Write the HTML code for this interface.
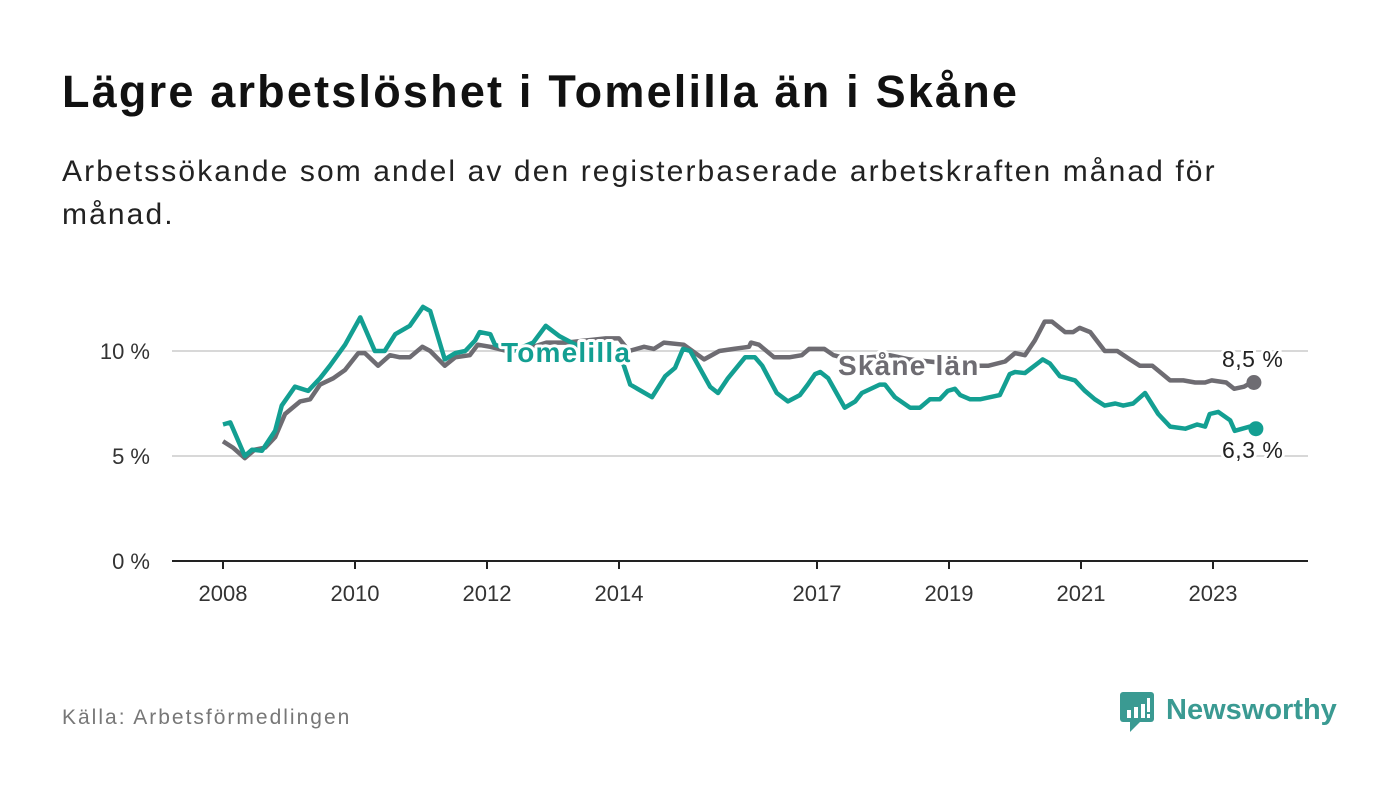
<!DOCTYPE html>
<html><head><meta charset="utf-8"><style>
body{margin:0;width:1400px;height:794px;background:#fff;font-family:"Liberation Sans",sans-serif;overflow:hidden;position:relative}
#title{position:absolute;left:62px;top:66px;font-size:45px;letter-spacing:2.2px;font-weight:bold;color:#111;margin:0}
#sub{position:absolute;left:62px;top:150px;width:1200px;font-size:30px;letter-spacing:2.1px;line-height:43px;color:#222;margin:0}
#src{position:absolute;left:62px;top:706px;font-size:21px;letter-spacing:2px;color:#777}
#logo{position:absolute;left:1118px;top:690px}
svg text{font-family:"Liberation Sans",sans-serif}
</style></head><body>
<h1 id="title">Lägre arbetslöshet i Tomelilla än i Skåne</h1>
<p id="sub">Arbetssökande som andel av den registerbaserade arbetskraften månad för månad.</p>
<svg id="chart" width="1400" height="794" style="position:absolute;left:0;top:0"></svg>
<div id="src">Källa: Arbetsförmedlingen</div>
<div id="logo">
<svg width="230" height="46"><rect x="2" y="2" width="34" height="30" rx="3" fill="#3a9a92"/><path d="M12 32 L12 42 L22 32Z" fill="#3a9a92"/>
<rect x="9" y="20" width="4" height="8" fill="#fff"/><rect x="16" y="17" width="4" height="11" fill="#fff"/><rect x="23" y="14" width="4" height="14" fill="#fff"/><rect x="29" y="8" width="3" height="14" fill="#fff"/><rect x="29" y="24" width="3" height="4" fill="#fff"/>
<text x="48" y="29" font-size="29" font-weight="bold" fill="#3a9a92">Newsworthy</text></svg></div>
<script>
const yTicks=[0,5,10];
const yTickLabels=["0 %","5 %","10 %"];
const xTicks=[2008,2010,2012,2014,2017,2019,2021,2023];
const tomDates=[2008.00,2008.11,2008.33,2008.44,2008.59,2008.79,2008.89,2009.09,2009.29,2009.47,2009.62,2009.85,2010.08,2010.30,2010.45,2010.61,2010.83,2011.03,2011.14,2011.36,2011.52,2011.67,2011.82,2011.89,2012.05,2012.12,2012.4,2012.7,2012.89,2013.1,2013.4,2013.7,2014.0,2014.17,2014.50,2014.70,2014.85,2014.97,2015.08,2015.38,2015.50,2015.65,2015.91,2016.06,2016.17,2016.39,2016.56,2016.74,2016.86,2016.97,2017.05,2017.17,2017.42,2017.58,2017.68,2017.95,2018.03,2018.18,2018.41,2018.56,2018.71,2018.86,2018.98,2019.09,2019.17,2019.32,2019.47,2019.77,2019.92,2020.00,2020.15,2020.38,2020.42,2020.53,2020.68,2020.91,2021.06,2021.21,2021.36,2021.52,2021.64,2021.79,2021.97,2022.17,2022.35,2022.58,2022.76,2022.88,2022.95,2023.08,2023.26,2023.33,2023.56,2023.65];
const tomVals=[6.5,6.6,5.0,5.3,5.25,6.2,7.4,8.3,8.1,8.7,9.3,10.3,11.6,10.0,10.0,10.8,11.2,12.1,11.9,9.6,9.9,10.0,10.5,10.9,10.8,10.3,10.0,10.4,11.2,10.7,10.2,9.8,10.0,8.4,7.8,8.8,9.2,10.1,10.0,8.3,8.0,8.7,9.7,9.7,9.3,8.0,7.6,7.9,8.4,8.9,9.0,8.7,7.3,7.6,8.0,8.4,8.4,7.8,7.3,7.3,7.7,7.7,8.1,8.2,7.9,7.7,7.7,7.9,8.9,9.0,8.95,9.5,9.6,9.4,8.8,8.6,8.1,7.7,7.4,7.5,7.4,7.5,8.0,7.0,6.4,6.3,6.5,6.4,7.0,7.1,6.7,6.2,6.4,6.3];
const skDates=[2008.0,2008.15,2008.33,2008.48,2008.64,2008.79,2008.94,2009.17,2009.32,2009.47,2009.67,2009.85,2010.05,2010.15,2010.35,2010.53,2010.68,2010.83,2011.02,2011.14,2011.36,2011.52,2011.74,2011.86,2012.05,2012.3,2012.6,2012.9,2013.2,2013.5,2013.8,2014.0,2014.15,2014.38,2014.53,2014.68,2014.98,2015.29,2015.52,2015.74,2015.97,2016.0,2016.12,2016.35,2016.58,2016.77,2016.88,2017.11,2017.25,2017.5,2017.8,2018.1,2018.4,2018.7,2019.0,2019.3,2019.6,2019.85,2020.0,2020.15,2020.3,2020.45,2020.56,2020.76,2020.88,2020.98,2021.14,2021.36,2021.55,2021.74,2021.89,2022.08,2022.35,2022.55,2022.73,2022.88,2022.98,2023.2,2023.32,2023.47,2023.58,2023.62];
const skVals=[5.7,5.4,4.9,5.3,5.4,5.9,7.0,7.6,7.7,8.4,8.7,9.1,9.9,9.9,9.3,9.8,9.7,9.7,10.2,10.0,9.3,9.7,9.8,10.3,10.2,10.0,10.1,10.4,10.4,10.5,10.6,10.6,10.0,10.2,10.1,10.4,10.3,9.6,10.0,10.1,10.2,10.4,10.3,9.7,9.7,9.8,10.1,10.1,9.8,9.6,9.7,9.8,9.6,9.5,9.4,9.3,9.3,9.5,9.9,9.8,10.5,11.4,11.4,10.9,10.9,11.1,10.9,10.0,10.0,9.6,9.3,9.3,8.6,8.6,8.5,8.5,8.6,8.5,8.2,8.3,8.5,8.5];
const svg=document.getElementById('chart');const NS='http://www.w3.org/2000/svg';
const X=d=>223+(d-2008)*66;const Y=v=>561-v*21;
function mk(t,a){const e=document.createElementNS(NS,t);for(const k in a)e.setAttribute(k,a[k]);svg.appendChild(e);return e;}
yTicks.forEach((v,i)=>{
 if(v>0){const g=mk('line',{x1:172,x2:1308,y1:Y(v),y2:Y(v),stroke:'#d8d8d8','stroke-width':2});
 
 }
 const t=mk('text',{x:150,y:Y(v)+8,'text-anchor':'end','font-size':22,fill:'#333'});t.textContent=yTickLabels[i];
 
 
});
const ax=mk('line',{x1:172,x2:1308,y1:561,y2:561,stroke:'#222','stroke-width':2});


xTicks.forEach(y=>{const tk=mk('line',{x1:X(y),x2:X(y),y1:561,y2:569,stroke:'#222','stroke-width':2});
 
 
 const t=mk('text',{x:X(y),y:601,'text-anchor':'middle','font-size':22,fill:'#333'});t.textContent=y;
 
 });
function line(d,v,c,name){const p=mk('polyline',{points:d.map((x,i)=>X(x)+','+Y(v[i])).join(' '),fill:'none',stroke:c,'stroke-width':4.5,'stroke-linejoin':'round'});
 
 
 const c2=mk('circle',{cx:X(d[d.length-1]),cy:Y(v[v.length-1]),r:7.5,fill:c});
 
 }
line(skDates,skVals,'#6e6c72','skane-line');
line(tomDates,tomVals,'#139f92','tomelilla-line');
function lab(x,y,s,c,fs,bold,ls,name){const t=mk('text',{x:x,y:y,'font-size':fs,'font-weight':bold?'bold':'normal','letter-spacing':ls,fill:c,stroke:'#fff','stroke-width':6,'paint-order':'stroke','stroke-linejoin':'round'});t.textContent=s;
 
 }
lab(501,362,'Tomelilla','#139f92',28,true,1.2,'tomelilla-label');
lab(838,375,'Skåne län','#6e6c72',28,true,1.2,'skane-label');
lab(1222,367,'8,5 %','#222',23,false,0.5,'skane-end-value');
lab(1222,458,'6,3 %','#222',23,false,0.5,'tomelilla-end-value');
</script>
</body></html>
